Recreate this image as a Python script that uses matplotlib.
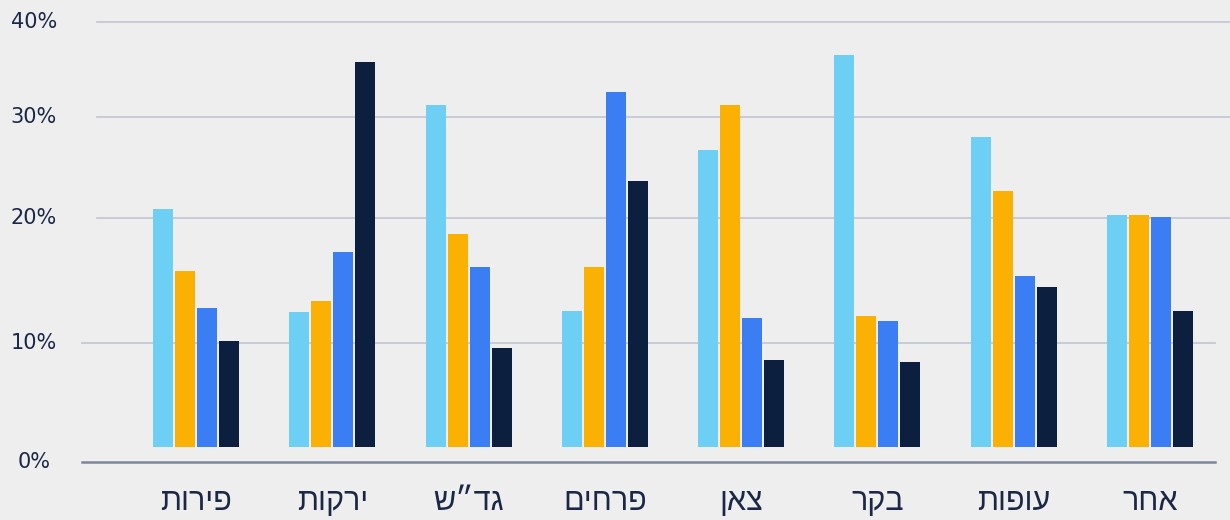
import matplotlib
matplotlib.use("Agg")
import matplotlib.pyplot as plt
import numpy as np

# categories, left to right as they appear (logical Hebrew order)
categories = ["פירות", "ירקות", "גד״ש", "פרחים", "צאן", "בקר", "עופות", "אחר"]

# four series, values in %
series_a = [20.9, 12.5, 31.3, 12.6, 26.7, 36.5, 28.0, 20.3]   # light blue
series_b = [15.8, 13.4, 18.7, 16.1, 31.3, 12.2, 22.7, 20.3]   # orange
series_c = [12.8, 17.3, 16.1, 32.6, 12.0, 11.8, 15.4, 20.1]   # blue
series_d = [10.2, 35.8, 9.6, 23.7, 8.6, 8.4, 14.5, 12.6]      # navy

tick_values = [0, 10, 20, 30, 40]
tick_labels = ["0%", "10%", "20%", "30%", "40%"]

colors = ["#6dcff3", "#fbb104", "#3b7df2", "#0d1f3f"]
bg = "#eeeeee"
text_col = "#1b2845"

# the original axis is not evenly spaced, so use a piecewise scale
knot_pos = np.array([0, 119, 244, 345, 440], dtype=float)
knot_val = np.array(tick_values, dtype=float)
lo_slope = (knot_pos[1] - knot_pos[0]) / 10.0
hi_slope = (knot_pos[-1] - knot_pos[-2]) / 10.0


def forward(v):
    v = np.asarray(v, dtype=float)
    out = np.interp(v, knot_val, knot_pos)
    out = np.where(v < 0, v * lo_slope, out)
    out = np.where(v > 40, knot_pos[-1] + (v - 40) * hi_slope, out)
    return out


def inverse(p):
    p = np.asarray(p, dtype=float)
    out = np.interp(p, knot_pos, knot_val)
    out = np.where(p < 0, p / lo_slope, out)
    out = np.where(p > knot_pos[-1], 40 + (p - knot_pos[-1]) / hi_slope, out)
    return out


fig = plt.figure(figsize=(12.3, 5.2), dpi=100)
fig.patch.set_facecolor(bg)
ax = fig.add_axes([0, 0, 1, 1])
ax.set_facecolor(bg)
ax.set_yscale("function", functions=(forward, inverse))

step = 136.3          # px per group
x = np.arange(len(categories))
pitch = 22 / step
width = 20 / step
base = inverse(15.0)  # bars sit a bit above the zero line

for i, (vals, c) in enumerate(zip([series_a, series_b, series_c, series_d], colors)):
    vals = np.array(vals)
    ax.bar(x + (i - 1.5) * pitch, vals - base, bottom=base, width=width,
           color=c, zorder=3, linewidth=0)

ax.set_xlim(-196 / step, 7 + 80 / step)
ax.set_ylim(inverse(-58), inverse(462))

# gridlines
grid_col = "#c6c9d2"
for v in tick_values:
    if v >= 20:
        ax.axhline(v, xmin=97 / 1230, xmax=1.0, color=grid_col, lw=1.3, zorder=1)
    elif v == 10:
        ax.axhline(v, xmin=82 / 1230, xmax=1215 / 1230, color=grid_col, lw=1.3, zorder=1)
    else:
        ax.axhline(v, xmin=82 / 1230, xmax=1215 / 1230, color="#7d879c", lw=1.8, zorder=1)

for v, lab in zip(tick_values, tick_labels):
    ax.text(34 / 1230, v, lab, transform=ax.get_yaxis_transform(),
            ha="center", va="center", fontsize=15, color=text_col,
            family="DejaVu Sans")

for xi, cat in zip(x, categories):
    ax.text(xi, 1 - 502 / 520, cat[::-1], transform=ax.get_xaxis_transform(),
            ha="center", va="center", fontsize=22, color=text_col,
            family=["Liberation Sans", "DejaVu Sans"])

ax.axis("off")
fig.savefig("out.png", dpi=100, facecolor=bg)
